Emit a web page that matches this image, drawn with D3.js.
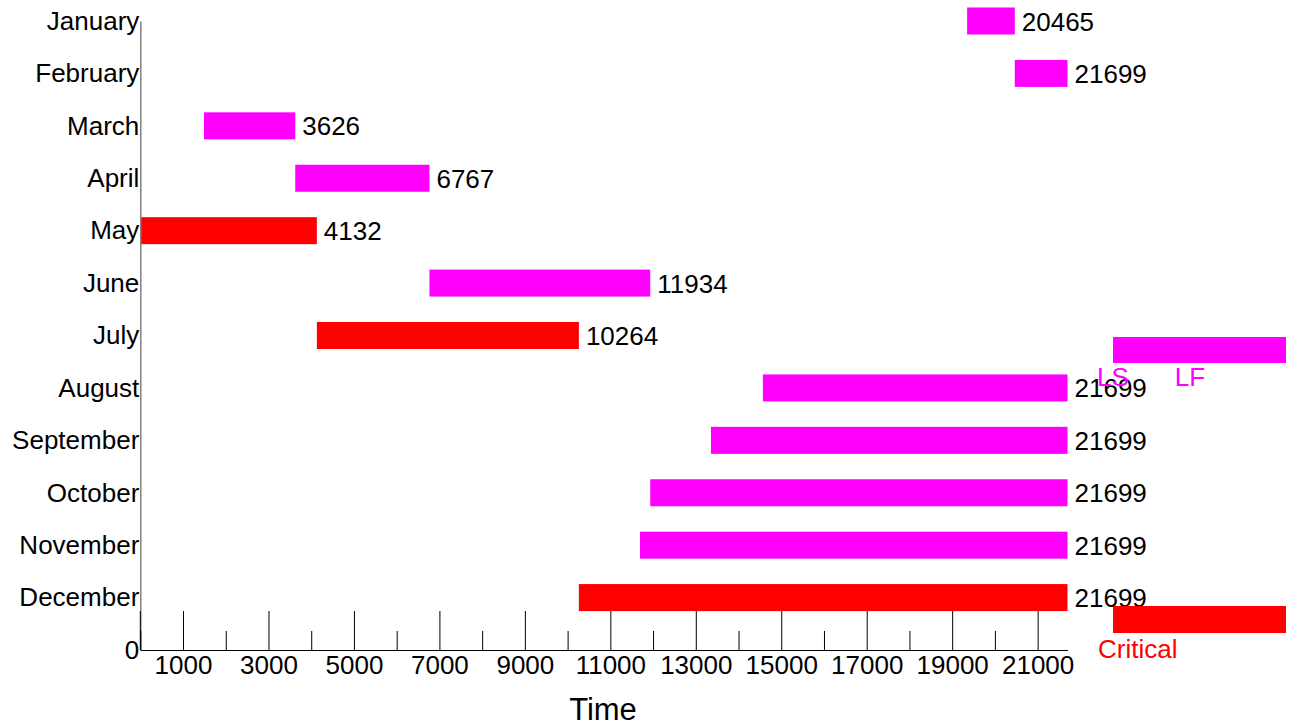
<!DOCTYPE html>
<html>
<head>
<meta charset="utf-8">
<script src="https://cdn.jsdelivr.net/npm/d3@7"></script>
<style>
  html, body { margin: 0; padding: 0; background: #fff; }
  svg { display: block; font-family: "Liberation Sans", Arial, sans-serif; }
</style>
</head>
<body>
<svg id="chart" width="1291" height="728"></svg>
<script>
const months = ["January","February","March","April","May","June","July","August","September","October","November","December"];
const startValues = [19350, 20465, 1490, 3626, 0, 6767, 4132, 14570, 13355, 11934, 11695, 10264];
const endValues   = [20465, 21699, 3626, 6767, 4132, 11934, 10264, 21699, 21699, 21699, 21699, 21699];
const isCritical  = [false, false, false, false, true, false, true, false, false, false, false, true];
const majorTicks = [1000, 3000, 5000, 7000, 9000, 11000, 13000, 15000, 17000, 19000, 21000];
const minorTicks = [2000, 4000, 6000, 8000, 10000, 12000, 14000, 16000, 18000, 20000];
const legendLabels = ["LS", "LF", "Critical"];

const svg = d3.select("#chart");
const x = d3.scaleLinear().domain([0, 21699]).range([140.3, 1067.5]);
const y = d3.scalePoint().domain([...months, "0"]).range([21, 650]);
const barH = 27;
const fs = 26;

// bars
const rows = months.map((m, i) => ({ m, s: startValues[i], e: endValues[i], c: isCritical[i] }));
svg.append("g").selectAll("rect").data(rows).join("rect")
  .attr("x", d => x(d.s))
  .attr("y", d => y(d.m) - barH / 2)
  .attr("width", d => x(d.e) - x(d.s))
  .attr("height", barH)
  .attr("fill", d => d.c ? "#ff0000" : "#ff00ff");

// y axis
const yAxis = svg.append("g").attr("transform", `translate(${x(0)},0)`)
  .call(d3.axisLeft(y).tickSize(0).tickSizeOuter(0).tickPadding(1));
yAxis.select(".domain").attr("stroke", "#808080").attr("stroke-width", 1.5);
yAxis.selectAll("text").attr("font-size", fs).attr("fill", "#000").attr("font-family", "Liberation Sans, Arial, sans-serif");

// x axis major
const xAxis = svg.append("g").attr("transform", `translate(0,${y("0")})`)
  .call(d3.axisBottom(x).tickValues(majorTicks).tickSize(-39).tickSizeOuter(0).tickPadding(6).tickFormat(d3.format("d")));
xAxis.select(".domain").attr("stroke", "#000");
xAxis.selectAll(".tick line").attr("stroke", "#000");
xAxis.selectAll("text").attr("font-size", fs).attr("fill", "#000").attr("font-family", "Liberation Sans, Arial, sans-serif");

// x axis minor
const xMinor = svg.append("g").attr("transform", `translate(0,${y("0")})`)
  .call(d3.axisBottom(x).tickValues([0, ...minorTicks]).tickSize(-19).tickSizeOuter(0).tickFormat(""));
xMinor.select(".domain").remove();
xMinor.selectAll(".tick line").attr("stroke", "#000");
svg.append("line").attr("x1", x(0)).attr("x2", x(0)).attr("y1", y("0") - 39).attr("y2", y("0")).attr("stroke", "#000");

// value labels
svg.append("g").selectAll("text").data(rows).join("text")
  .attr("x", d => x(d.e) + 7)
  .attr("y", d => y(d.m) + 9.5)
  .attr("font-size", fs)
  .attr("fill", "#000")
  .text(d => d.e);

// x title
svg.append("text").attr("x", 603).attr("y", 720).attr("text-anchor", "middle")
  .attr("font-size", 31).attr("fill", "#000").text("Time");

// legend
const lg = svg.append("g");
lg.append("rect").attr("x", 1113).attr("y", 337).attr("width", 173).attr("height", 26).attr("fill", "#ff00ff");
lg.append("text").attr("x", 1113).attr("y", 386).attr("text-anchor", "middle").attr("font-size", fs).attr("fill", "#ff00ff").text(legendLabels[0]);
lg.append("text").attr("x", 1190).attr("y", 386).attr("text-anchor", "middle").attr("font-size", fs).attr("fill", "#ff00ff").text(legendLabels[1]);
lg.append("rect").attr("x", 1113).attr("y", 606).attr("width", 173).attr("height", 27).attr("fill", "#ff0000");
lg.append("text").attr("x", 1098).attr("y", 658).attr("text-anchor", "start").attr("font-size", fs).attr("fill", "#ff0000").text(legendLabels[2]);
</script>
</body>
</html>
